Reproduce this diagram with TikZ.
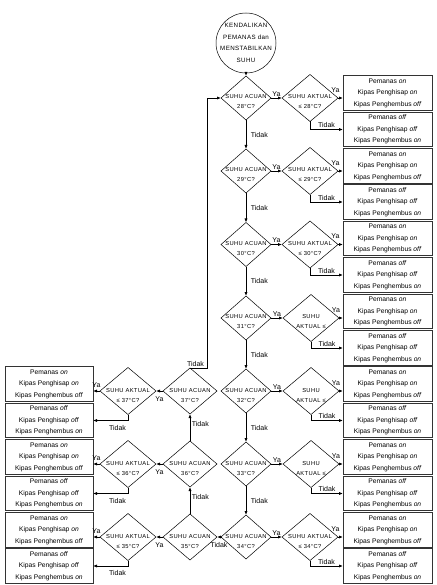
\documentclass[tikz,border=0pt]{standalone}
\usepackage{fontspec}
\setmainfont{Liberation Sans}
\newfontfamily\hurufkecil[LetterSpace=6]{Liberation Sans}
\usetikzlibrary{shapes.geometric, arrows.meta}

\newcommand{\nyala}{Pemanas \textit{on}\\Kipas Penghisap \textit{on}\\Kipas Penghembus \textit{off}}
\newcommand{\mati}{Pemanas \textit{off}\\Kipas Penghisap \textit{off}\\Kipas Penghembus \textit{on}}

\tikzset{
	acuan/.style={diamond, draw, line width=0.5pt, minimum width=50pt, minimum height=44pt, inner sep=0pt, outer sep=0pt},
	acuankiri/.style={acuan, minimum width=54pt, minimum height=46pt},
	aktual/.style={acuan, minimum width=56pt, minimum height=47pt},
	isi/.style={align=center, inner sep=0pt, yshift=-4pt, font=\hurufkecil\fontsize{5.8}{10}\selectfont},
	keadaan/.style={rectangle, draw=black!80, line width=0.6pt, minimum height=34.5pt, inner sep=0pt, outer sep=0pt, align=center, font=\fontsize{6.7}{11.5}\selectfont},
	kanan/.style={keadaan, minimum width=89pt},
	kiri/.style={keadaan, minimum width=88pt},
	panah/.style={-{Latex[length=4pt,width=3.2pt]}, line width=0.8pt},
	ket/.style={font=\fontsize{7}{8}\selectfont, inner sep=1.5pt}
}

\begin{document}
\begin{tikzpicture}[x=1pt, y=-1pt]
	\useasboundingbox (0,0) rectangle (436,585);

	\node[draw, circle, line width=0.5pt, minimum size=60pt, inner sep=-6pt, align=center, font=\hurufkecil\fontsize{6.2}{11.5}\selectfont] (mulai) at (246,43) {KENDALIKAN\\PEMANAS dan\\MENSTABILKAN\\SUHU};

	% kolom kanan
	\node[acuan, label={[isi]center:{SUHU ACUAN\\28°C?}}] (a28) at (246,98) {};
	\node[aktual, label={[isi]center:{SUHU AKTUAL\\≤ 28°C?}}] (k28) at (310,98) {};
	\node[kanan] (n28) at (387.5,93) {\nyala};
	\node[kanan] (m28) at (387.5,129.5) {\mati};

	\node[acuan, label={[isi]center:{SUHU ACUAN\\29°C?}}] (a29) at (246,171) {};
	\node[aktual, label={[isi]center:{SUHU AKTUAL\\≤ 29°C?}}] (k29) at (310,171) {};
	\node[kanan] (n29) at (387.5,166) {\nyala};
	\node[kanan] (m29) at (387.5,202) {\mati};

	\node[acuan, label={[isi]center:{SUHU ACUAN\\30°C?}}] (a30) at (246,244.5) {};
	\node[aktual, label={[isi]center:{SUHU AKTUAL\\≤ 30°C?}}] (k30) at (310,244.5) {};
	\node[kanan] (n30) at (387.5,238.5) {\nyala};
	\node[kanan] (m30) at (387.5,275) {\mati};

	\node[acuan, label={[isi]center:{SUHU ACUAN\\31°C?}}] (a31) at (246,318) {};
	\node[aktual, label={[isi]center:{SUHU\\AKTUAL ≤}}] (k31) at (311,318) {};
	\node[kanan] (n31) at (387.5,311.5) {\nyala};
	\node[kanan] (m31) at (387.5,348) {\mati};

	\node[acuan, label={[isi]center:{SUHU ACUAN\\32°C?}}] (a32) at (246,391) {};
	\node[aktual, label={[isi]center:{SUHU\\AKTUAL ≤}}] (k32) at (311,391) {};
	\node[kanan] (n32) at (387.5,384) {\nyala};
	\node[kanan] (m32) at (387.5,420.5) {\mati};

	\node[acuan, label={[isi]center:{SUHU ACUAN\\33°C?}}] (a33) at (246,464) {};
	\node[aktual, label={[isi]center:{SUHU\\AKTUAL ≤}}] (k33) at (311,464) {};
	\node[kanan] (n33) at (387.5,457) {\nyala};
	\node[kanan] (m33) at (387.5,493.5) {\mati};

	\node[acuan, label={[isi]center:{SUHU ACUAN\\34°C?}}] (a34) at (246,537) {};
	\node[aktual, label={[isi]center:{SUHU AKTUAL\\≤ 34°C?}}] (k34) at (310,537) {};
	\node[kanan] (n34) at (387.5,530) {\nyala};
	\node[kanan] (m34) at (387.5,566) {\mati};

	% kolom kiri
	\node[acuankiri, label={[isi]center:{SUHU ACUAN\\35°C?}}] (a35) at (190,537) {};
	\node[aktual, label={[isi]center:{SUHU AKTUAL\\≤ 35°C?}}] (k35) at (128,537) {};
	\node[kiri] (n35) at (49,530) {\nyala};
	\node[kiri] (m35) at (49,566) {\mati};

	\node[acuankiri, label={[isi]center:{SUHU ACUAN\\36°C?}}] (a36) at (190,464) {};
	\node[aktual, label={[isi]center:{SUHU AKTUAL\\≤ 36°C?}}] (k36) at (128,464) {};
	\node[kiri] (n36) at (49,457) {\nyala};
	\node[kiri] (m36) at (49,493.5) {\mati};

	\node[acuankiri, label={[isi]center:{SUHU ACUAN\\37°C?}}] (a37) at (190,391) {};
	\node[aktual, label={[isi]center:{SUHU AKTUAL\\≤ 37°C?}}] (k37) at (128,391) {};
	\node[kiri] (n37) at (49,384) {\nyala};
	\node[kiri] (m37) at (49,420.5) {\mati};

	\coordinate (balik) at (207,98);

	\path[panah] (mulai) edge (a28)
	(a28) edge node[ket, right, xshift=3pt] {Tidak} (a29)
	(a29) edge node[ket, right, xshift=3pt] {Tidak} (a30)
	(a30) edge node[ket, right, xshift=3pt] {Tidak} (a31)
	(a31) edge node[ket, right, xshift=3pt] {Tidak} (a32)
	(a32) edge node[ket, right, xshift=3pt] {Tidak} (a33)
	(a33) edge node[ket, right, xshift=3pt] {Tidak} (a34)
	(a34) edge node[ket, below, yshift=-4pt] {Tidak} (a35)
	(a35) edge node[ket, right, yshift=4pt] {Tidak} (a36)
	(a36) edge node[ket, right, yshift=4pt] {Tidak} (a37);

	\path[panah] (a28) edge node[ket, above] {Ya} (k28)
	(a29) edge node[ket, above] {Ya} (k29)
	(a30) edge node[ket, above] {Ya} (k30)
	(a31) edge node[ket, above] {Ya} (k31)
	(a32) edge node[ket, above] {Ya} (k32)
	(a33) edge node[ket, above] {Ya} (k33)
	(a34) edge node[ket, above] {Ya} (k34)
	(a35) edge node[ket, below, yshift=-4pt] {Ya} (k35)
	(a36) edge node[ket, below, yshift=-4pt] {Ya} (k36)
	(a37) edge node[ket, below, yshift=-4pt] {Ya} (k37);

	\path[panah] (k28.east) edge node[ket, above, xshift=-5pt, yshift=4pt] {Ya} (k28.east -| n28.west)
	(k29.east) edge node[ket, above, xshift=-5pt, yshift=4pt] {Ya} (k29.east -| n29.west)
	(k30.east) edge node[ket, above, xshift=-5pt, yshift=4pt] {Ya} (k30.east -| n30.west)
	(k31.east) edge node[ket, above, xshift=-5pt, yshift=4pt] {Ya} (k31.east -| n31.west)
	(k32.east) edge node[ket, above, xshift=-5pt, yshift=4pt] {Ya} (k32.east -| n32.west)
	(k33.east) edge node[ket, above, xshift=-5pt, yshift=4pt] {Ya} (k33.east -| n33.west)
	(k34.east) edge node[ket, above, xshift=-5pt, yshift=4pt] {Ya} (k34.east -| n34.west)
	(k35.west) edge node[ket, above, yshift=2pt] {Ya} (k35.west -| n35.east)
	(k36.west) edge node[ket, above, yshift=2pt] {Ya} (k36.west -| n36.east)
	(k37.west) edge node[ket, above, yshift=2pt] {Ya} (k37.west -| n37.east);

	\draw[panah] (k28) |- node[ket, above, pos=0.75] {Tidak} (m28);
	\draw[panah] (k29) |- node[ket, above, pos=0.75] {Tidak} (m29);
	\draw[panah] (k30) |- node[ket, above, pos=0.75] {Tidak} (m30);
	\draw[panah] (k31) |- node[ket, above, pos=0.75] {Tidak} (m31);
	\draw[panah] (k32) |- node[ket, above, pos=0.75] {Tidak} (m32);
	\draw[panah] (k33) |- node[ket, above, pos=0.75] {Tidak} (m33);
	\draw[panah] (k34) |- node[ket, above, pos=0.75] {Tidak} (m34);
	\draw[panah] (k35) |- node[ket, below, pos=0.65, yshift=-3pt] {Tidak} (m35);
	\draw[panah] (k36) |- node[ket, below, pos=0.65, yshift=-3pt] {Tidak} (m36);
	\draw[panah] (k37) |- node[ket, below, pos=0.65, yshift=-3pt] {Tidak} (m37);

	\draw[panah] (a37.north) -| node[ket, above, pos=0.25, xshift=-3pt] {Tidak} (balik) -- (a28.west);
\end{tikzpicture}
\end{document}
